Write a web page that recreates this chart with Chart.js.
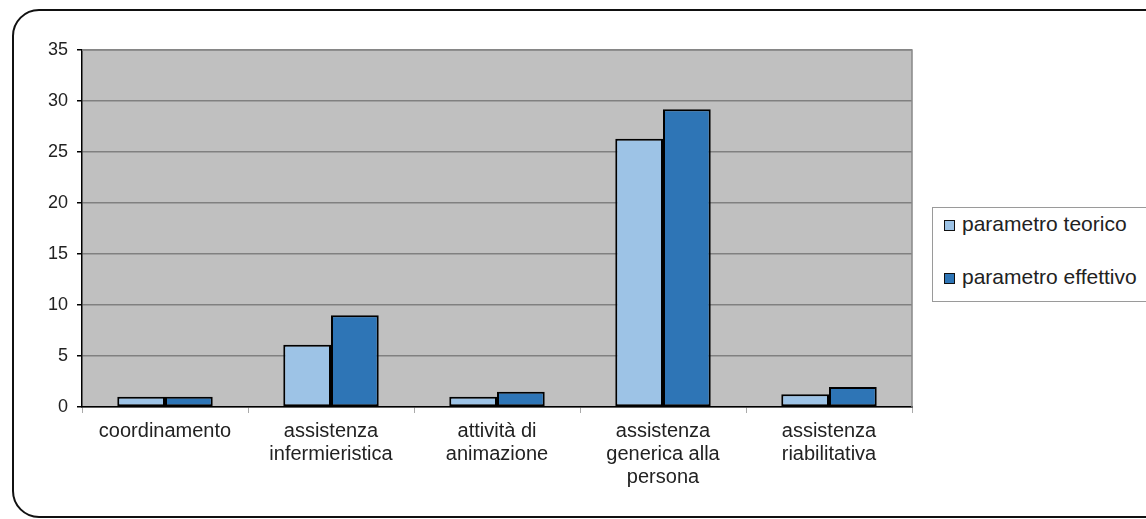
<!DOCTYPE html>
<html>
<head>
<meta charset="utf-8">
<script src="https://cdn.jsdelivr.net/npm/chart.js@4/dist/chart.umd.min.js"></script>
<style>
  html, body { margin: 0; padding: 0; background: #fff; }
  #wrap { position: relative; width: 1146px; height: 519px; overflow: hidden; }
  #c { position: absolute; left: 0; top: 0; }
  #legend { position: absolute; left: 932px; top: 207px; width: 240px; height: 95px;
    border: 1px solid #9a9a9a; background: #fff; box-sizing: border-box;
    font-family: "Liberation Sans", Arial, sans-serif; font-size: 21px; color: #222; }
  .item { position: absolute; left: 11px; height: 24px; line-height: 24px; white-space: nowrap; }
  .sw { display: inline-block; width: 9px; height: 9px; border: 1px solid #111; margin-right: 7px; vertical-align: 0px; }
</style>
</head>
<body>
<div id="wrap">
  <canvas id="c" width="1146" height="519"></canvas>
  <div id="legend"></div>
</div>
<script>
const categories = [
  "coordinamento",
  ["assistenza", "infermieristica"],
  ["attività di", "animazione"],
  ["assistenza", "generica alla", "persona"],
  ["assistenza", "riabilitativa"]
];
const seriesNames = ["parametro teorico", "parametro effettivo"];
const teorico = [1, 6.1, 1, 26.3, 1.25];
const effettivo = [1, 9, 1.5, 29.2, 1.95];
const yTicks = [0, 5, 10, 15, 20, 25, 30, 35];
const colors = ["#9DC3E6", "#2E75B6"];

const frame = {
  id: "frame",
  beforeDraw(chart) {
    const { ctx, chartArea: a } = chart;
    ctx.save();
    ctx.fillStyle = "#fff";
    ctx.fillRect(0, 0, chart.width, chart.height);
    ctx.fillStyle = "#C0C0C0";
    ctx.fillRect(a.left, a.top, a.right - a.left, a.bottom - a.top);
    ctx.restore();
  },
  afterDatasetsDraw(chart) {
    const { ctx, chartArea: a } = chart;
    ctx.save();
    ctx.strokeStyle = "#888";
    ctx.lineWidth = 1.5;
    ctx.beginPath();
    ctx.moveTo(a.left, a.top);
    ctx.lineTo(a.right, a.top);
    ctx.lineTo(a.right, a.bottom);
    ctx.stroke();
    ctx.strokeStyle = "#111";
    ctx.lineWidth = 2;
    ctx.beginPath();
    ctx.roundRect(13, 10, 1160, 507, 26);
    ctx.stroke();
    ctx.restore();
  }
};

new Chart(document.getElementById("c"), {
  type: "bar",
  data: {
    labels: categories,
    datasets: [
      { label: seriesNames[0], data: teorico, backgroundColor: colors[0], borderColor: "#000", borderWidth: 2, borderSkipped: false },
      { label: seriesNames[1], data: effettivo, backgroundColor: colors[1], borderColor: "#000", borderWidth: 2, borderSkipped: false }
    ]
  },
  options: {
    responsive: false,
    animation: false,
    layout: { padding: { left: 20, right: 234, top: 50, bottom: 0 } },
    datasets: { bar: { categoryPercentage: 0.575, barPercentage: 1 } },
    plugins: { legend: { display: false }, tooltip: { enabled: false } },
    scales: {
      x: {
        offset: true,
        grid: { offset: true, drawOnChartArea: false, drawTicks: true, tickLength: 6, tickColor: "#aaa" },
        border: { color: "#000", width: 1.5 },
        ticks: { color: "#222", padding: 7, maxRotation: 0, autoSkip: false,
          font: { family: "Liberation Sans", size: 20, lineHeight: 1.15 } },
        afterFit(s) { s.height = 112; }
      },
      y: {
        min: 0, max: 35,
        afterBuildTicks(s) { s.ticks = yTicks.map(v => ({ value: v })); },
        grid: { color: "#808080", lineWidth: 1.5, tickLength: 5, tickColor: "#000" },
        border: { color: "#000", width: 1.5 },
        ticks: { color: "#222", padding: 9, font: { family: "Liberation Sans", size: 18 } },
        afterFit(s) { s.width = 62; }
      }
    }
  },
  plugins: [frame]
});

const lg = document.getElementById("legend");
seriesNames.forEach((n, i) => {
  const d = document.createElement("div");
  d.className = "item";
  d.style.top = (i === 0 ? 4 : 57) + "px";
  d.innerHTML = '<span class="sw" style="background:' + colors[i] + '"></span>' + n;
  lg.appendChild(d);
});
</script>
</body>
</html>
